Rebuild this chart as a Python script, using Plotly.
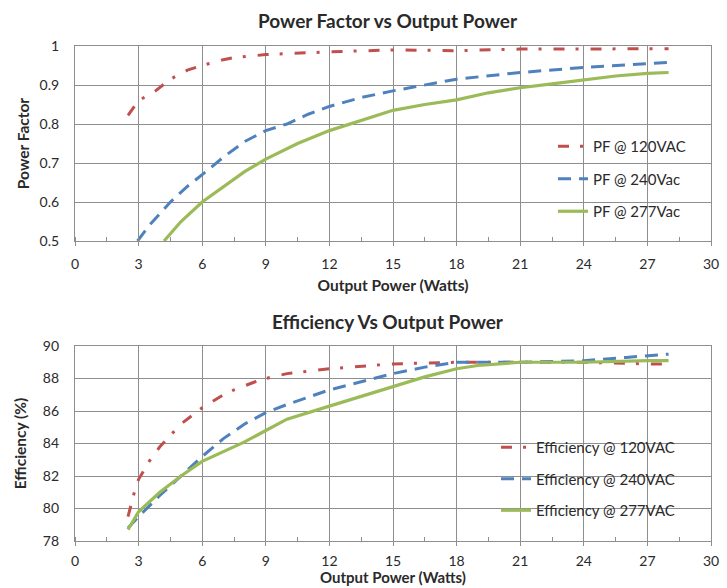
import plotly.graph_objects as go

# ---- Power factor vs output power ----
pf120_x = [2.5, 3.0, 3.8, 4.5, 5.3, 6.0, 7.0, 7.5, 9.0, 10.5, 12.0, 15.0, 18.0, 21.0, 24.0, 27.0, 28.0]
pf120_y = [0.822, 0.860, 0.885, 0.915, 0.938, 0.950, 0.965, 0.970, 0.978, 0.982, 0.985, 0.990, 0.988, 0.992, 0.993, 0.993, 0.993]

pf240_x = [2.95, 3.5, 4.5, 5.3, 6.0, 7.0, 8.0, 9.0, 10.0, 11.0, 12.0, 13.5, 15.0, 16.5, 18.0, 21.0, 24.0, 27.0, 28.0]
pf240_y = [0.500, 0.540, 0.600, 0.640, 0.670, 0.715, 0.755, 0.783, 0.800, 0.825, 0.845, 0.868, 0.885, 0.900, 0.915, 0.932, 0.945, 0.955, 0.958]

pf277_x = [4.2, 5.0, 6.0, 7.0, 8.0, 9.0, 10.5, 12.0, 13.0, 15.0, 16.5, 18.0, 19.5, 21.0, 22.5, 24.0, 25.5, 27.0, 28.0]
pf277_y = [0.500, 0.550, 0.600, 0.640, 0.678, 0.710, 0.750, 0.783, 0.800, 0.835, 0.850, 0.862, 0.880, 0.893, 0.903, 0.914, 0.923, 0.930, 0.932]

# ---- Efficiency vs output power ----
eff120_x = [2.5, 2.8, 3.0, 3.5, 4.0, 5.0, 6.0, 7.0, 7.5, 8.5, 9.0, 10.0, 12.0, 15.0, 18.0, 21.0, 24.0, 27.0, 28.0]
eff120_y = [79.5, 81.0, 81.8, 82.9, 83.8, 85.2, 86.2, 87.0, 87.3, 87.8, 88.0, 88.3, 88.6, 88.9, 89.0, 89.0, 89.0, 88.9, 88.9]

eff240_x = [2.5, 3.0, 4.0, 5.0, 6.0, 7.0, 8.0, 9.0, 10.0, 12.0, 13.5, 15.0, 16.5, 18.0, 21.0, 24.0, 26.0, 28.0]
eff240_y = [78.8, 79.5, 80.8, 82.0, 83.2, 84.3, 85.2, 85.9, 86.4, 87.3, 87.8, 88.3, 88.7, 89.0, 89.0, 89.1, 89.3, 89.5]

eff277_x = [2.5, 3.0, 4.0, 5.0, 6.0, 7.0, 8.0, 9.0, 10.0, 12.0, 13.5, 15.0, 16.5, 18.0, 19.0, 21.0, 24.0, 27.0, 28.0]
eff277_y = [78.7, 79.8, 81.0, 82.0, 82.9, 83.5, 84.1, 84.8, 85.5, 86.3, 86.9, 87.5, 88.1, 88.6, 88.8, 89.0, 89.0, 89.1, 89.1]

x_ticks = [0, 3, 6, 9, 12, 15, 18, 21, 24, 27, 30]
pf_ticks = [0.5, 0.6, 0.7, 0.8, 0.9, 1.0]
pf_tick_text = ["0.5", "0.6", "0.7", "0.8", "0.9", "1"]
eff_ticks = [78, 80, 82, 84, 86, 88, 90]

RED = "#C0504D"
BLUE = "#4F81BD"
GREEN = "#9BBB59"
FONT = "Lato, 'Open Sans', sans-serif"
TXT = "#2a2a2a"
GRID = "#8e8e8e"

W, H = 727, 588


def px_x(p):
    return p / W


def px_y(p):
    return 1 - p / H


fig = go.Figure()

long_dash_dot = "11px,11px,3px,12px"
dash = "13px,8px"

fig.add_trace(go.Scatter(x=pf120_x, y=pf120_y, mode="lines", name="PF @ 120VAC",
                         line=dict(color=RED, width=3, dash=long_dash_dot),
                         xaxis="x", yaxis="y", legend="legend", legendgroup="a"))
fig.add_trace(go.Scatter(x=pf240_x, y=pf240_y, mode="lines", name="PF @ 240Vac",
                         line=dict(color=BLUE, width=3, dash=dash),
                         xaxis="x", yaxis="y", legend="legend", legendgroup="b"))
fig.add_trace(go.Scatter(x=pf277_x, y=pf277_y, mode="lines", name="PF @ 277Vac",
                         line=dict(color=GREEN, width=3.2),
                         xaxis="x", yaxis="y", legend="legend", legendgroup="c"))

fig.add_trace(go.Scatter(x=eff120_x, y=eff120_y, mode="lines", name="Efficiency @ 120VAC",
                         line=dict(color=RED, width=3, dash=long_dash_dot),
                         xaxis="x2", yaxis="y2", legend="legend2", legendgroup="d"))
fig.add_trace(go.Scatter(x=eff240_x, y=eff240_y, mode="lines", name="Efficiency @ 240VAC",
                         line=dict(color=BLUE, width=3, dash=dash),
                         xaxis="x2", yaxis="y2", legend="legend2", legendgroup="e"))
fig.add_trace(go.Scatter(x=eff277_x, y=eff277_y, mode="lines", name="Efficiency @ 277VAC",
                         line=dict(color=GREEN, width=3.2),
                         xaxis="x2", yaxis="y2", legend="legend2", legendgroup="f"))

x_domain = [px_x(75), px_x(711)]
TICK_FONT = dict(family=FONT, size=14, color=TXT)
AXIS_TITLE_FONT = dict(family=FONT, size=15.5, color=TXT)

common_x = dict(
    range=[0, 30], tickvals=x_ticks, showgrid=True, gridcolor=GRID, gridwidth=1,
    showline=True, linecolor=GRID, linewidth=1.2, mirror=True,
    ticks="outside", ticklen=4, tickcolor=GRID,
    minor=dict(dtick=1.5, tick0=0, ticks="inside", ticklen=4, tickcolor=GRID, showgrid=False),
    tickfont=TICK_FONT, zeroline=False, automargin=False,
    domain=x_domain,
)
common_y = dict(
    showgrid=True, gridcolor=GRID, gridwidth=1,
    showline=True, linecolor=GRID, linewidth=1.2, mirror=True,
    ticks="", ticklabelstandoff=12,
    tickfont=TICK_FONT, zeroline=False, automargin=False,
)

# white panels behind each legend (over the gridlines, under the curves)
legend_panels = [
    dict(type="rect", xref="paper", yref="paper", layer="between",
         x0=px_x(526), x1=px_x(705), y0=px_y(229), y1=px_y(131),
         fillcolor="white", line=dict(width=0)),
    dict(type="rect", xref="paper", yref="paper", layer="between",
         x0=px_x(468), x1=px_x(705), y0=px_y(526), y1=px_y(428),
         fillcolor="white", line=dict(width=0)),
]

fig.update_layout(
    width=W, height=H,
    margin=dict(l=0, r=0, t=0, b=0),
    paper_bgcolor="white", plot_bgcolor="white",
    font=dict(family=FONT, color=TXT),
    xaxis=dict(**common_x, anchor="y", ticklabelstandoff=6,
               title=dict(text="<b>Output Power (Watts)</b>", font=AXIS_TITLE_FONT, standoff=9)),
    yaxis=dict(**common_y, range=[0.5, 1.0], tickvals=pf_ticks, ticktext=pf_tick_text,
               domain=[px_y(241), px_y(46)], anchor="x",
               title=dict(text="<b>Power Factor</b>", font=AXIS_TITLE_FONT, standoff=6)),
    xaxis2=dict(**common_x, anchor="y2", ticklabelstandoff=3),
    yaxis2=dict(**common_y, range=[78, 90], tickvals=eff_ticks,
                domain=[px_y(541), px_y(346)], anchor="x2",
                title=dict(text="<b>Efficiency (%)</b>", font=AXIS_TITLE_FONT, standoff=12)),
    legend=dict(x=px_x(553), y=px_y(130), xanchor="left", yanchor="top",
                bgcolor="rgba(0,0,0,0)", borderwidth=0, tracegroupgap=10,
                font=dict(family=FONT, size=15, color=TXT)),
    legend2=dict(x=px_x(496), y=px_y(431), xanchor="left", yanchor="top",
                 bgcolor="rgba(0,0,0,0)", borderwidth=0, tracegroupgap=9,
                 font=dict(family=FONT, size=15, color=TXT)),
    shapes=legend_panels,
    annotations=[
        dict(text="<b>Power Factor vs Output Power</b>", x=px_x(388), y=px_y(21),
             xref="paper", yref="paper", xanchor="center", yanchor="middle", showarrow=False,
             font=dict(size=19, family=FONT, color=TXT)),
        dict(text="<b>Efficiency Vs Output Power</b>", x=px_x(388), y=px_y(321),
             xref="paper", yref="paper", xanchor="center", yanchor="middle", showarrow=False,
             font=dict(size=19, family=FONT, color=TXT)),
        # lower panel's x-axis title, tucked against the bottom edge of the figure
        dict(text="<b>Output Power (Watts)</b>", x=px_x(393), y=px_y(588),
             xref="paper", yref="paper", xanchor="center", yanchor="bottom", showarrow=False,
             font=dict(family=FONT, size=15, color=TXT)),
    ],
)

fig.write_html("out.html")
